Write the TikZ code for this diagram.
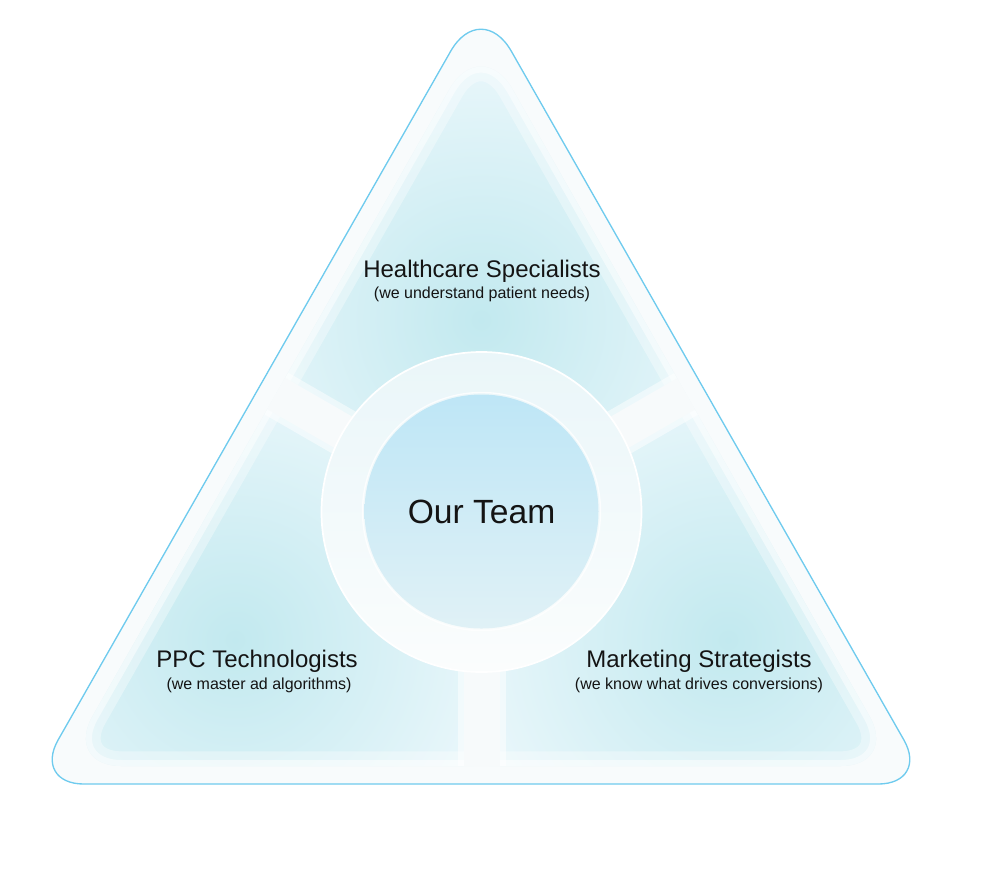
\documentclass[tikz,border=0pt]{standalone}
\usepackage{fontspec}
\setmainfont{Liberation Sans}
\definecolor{outline}{HTML}{6FCBEE}
\definecolor{segdark}{RGB}{194,233,239}
\definecolor{seglight}{RGB}{234,247,251}
\definecolor{bandcol}{HTML}{F8FBFC}
\definecolor{gapcol}{HTML}{F7FAFB}
\definecolor{ringtop}{HTML}{EAF6F9}
\definecolor{ringbot}{HTML}{FBFDFD}
\definecolor{circtop}{HTML}{BEE6F6}
\definecolor{circbot}{HTML}{E0F1F6}
\definecolor{txt}{HTML}{141414}
\tikzset{
  title/.style={anchor=base, text=txt, font=\fontsize{18pt}{21pt}\selectfont, inner sep=0pt},
  subtitle/.style={anchor=base, text=txt, font=\fontsize{12pt}{14pt}\selectfont, inner sep=0pt},
  centertext/.style={anchor=base, text=txt, font=\fontsize{25.2pt}{29pt}\selectfont, inner sep=0pt},
  gapsoft/.style={line width=36pt, white, opacity=0.5},
  gapcore/.style={line width=27pt, gapcol},
}
\def\outerpath{(257,784) [rounded corners=38pt] -- (33,784) [rounded corners=46pt] -- (481,-2) [rounded corners=38pt] -- (929,784) -- cycle}
\def\innerpath{(257,766) [rounded corners=43pt] -- (64.2,766) [rounded corners=48pt] -- (481,34) [rounded corners=43pt] -- (897.8,766) -- cycle}
\begin{document}
\begin{tikzpicture}[x=0.75pt,y=-0.75pt]
\useasboundingbox (0,0) rectangle (1000,894);
\coordinate (O) at (481.5,512);
\coordinate (L) at (-124.7,162);
\coordinate (R) at (1087.7,162);
\coordinate (D) at (481.5,1212);

% outer body
\fill[bandcol] \outerpath;

% segments
\begin{scope}
  \clip \innerpath;
  \begin{scope}
    \clip (O) -- (L) -- (-124.7,-300) -- (1087.7,-300) -- (R) -- cycle;
    \shade[inner color=segdark, outer color=seglight] (481,320) circle (270);
  \end{scope}
  \begin{scope}
    \clip (O) -- (L) -- (-124.7,1212) -- (D) -- cycle;
    \shade[inner color=segdark, outer color=seglight] (235,640) circle (270);
  \end{scope}
  \begin{scope}
    \clip (O) -- (R) -- (1087.7,1212) -- (D) -- cycle;
    \shade[inner color=segdark, outer color=seglight] (728,640) circle (270);
  \end{scope}
  \draw[white, opacity=0.35, line width=22pt] \innerpath;
  \draw[white, opacity=0.5, line width=9pt] \innerpath;
  % gaps
  \draw[gapsoft] (O) -- (L);
  \draw[gapsoft] (O) -- (R);
  \draw[gapsoft] (O) -- (D);
  \draw[gapcore] (O) -- (L);
  \draw[gapcore] (O) -- (R);
  \draw[gapcore] (O) -- (D);
\end{scope}

% ring
\shade[top color=ringtop, bottom color=ringbot] (O) circle (160);
\draw[white, line width=1.3pt] (O) circle (160);
\draw[white, opacity=0.8, line width=1pt] (481.5,511.5) circle (119);
% inner circle
\shade[top color=circtop, bottom color=circbot] (481.5,511.5) circle (117);

% outline
\draw[outline, line width=1pt] \outerpath;

% texts
\node[title] (hs) at (482,277) {Healthcare Specialists};
\node[subtitle] (hss) at (482,298) {(we understand patient needs)};
\node[centertext] (team) at (481.5,523) {Our Team};
\node[title] (ppc) at (257,667) {PPC Technologists};
\node[subtitle] (ppcs) at (259,689) {(we master ad algorithms)};
\node[title] (ms) at (699,667) {Marketing Strategists};
\node[subtitle] (mss) at (699,689) {(we know what drives conversions)};
\end{tikzpicture}
\end{document}
